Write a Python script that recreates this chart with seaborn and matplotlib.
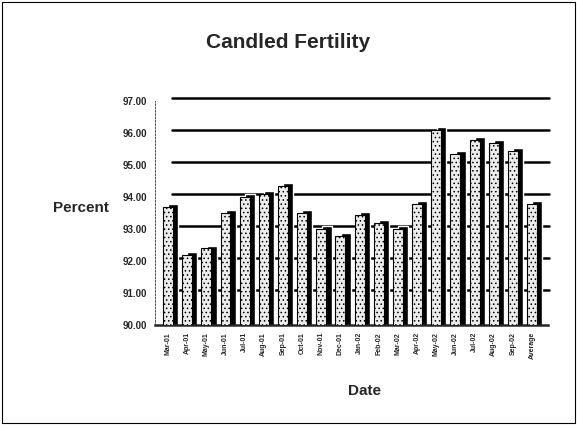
import numpy as np
import pandas as pd
import matplotlib
matplotlib.use("Agg")
import matplotlib.pyplot as plt
import matplotlib.transforms as mtransforms
from matplotlib.patches import Rectangle
import seaborn as sns

months = ["Mar-01", "Apr-01", "May-01", "Jun-01", "Jul-01", "Aug-01", "Sep-01",
          "Oct-01", "Nov-01", "Dec-01", "Jan-02", "Feb-02", "Mar-02", "Apr-02",
          "May-02", "Jun-02", "Jul-02", "Aug-02", "Sep-02", "Average"]
fertility = [93.7, 92.2, 92.4, 93.5, 94.0, 94.1, 94.35, 93.5, 93.0, 92.8,
             93.45, 93.2, 93.0, 93.8, 96.1, 95.35, 95.8, 95.7, 95.45, 93.8]
y_ticks = [90, 91, 92, 93, 94, 95, 96, 97]

df = pd.DataFrame({"Date": months, "Percent": fertility})

sns.set_style("white")
plt.rcParams["font.family"] = ["Liberation Sans", "DejaVu Sans"]
plt.rcParams["hatch.color"] = "#777777"
plt.rcParams["hatch.linewidth"] = 0.6

fig = plt.figure(figsize=(5.77, 4.25), dpi=100)
ax = fig.add_axes([0.2686, 0.235, 0.681, 0.527])

# 3D offset (right / up) used for the back wall and the column depth
depth = mtransforms.ScaledTranslation(3.8 / 72, 2 / 72, fig.dpi_scale_trans)

# back wall grid lines
wall = ax.get_yaxis_transform() + depth
for v in y_ticks[1:]:
    ax.plot([0.03, 0.99], [v, v], color="black", lw=1.8, zorder=0,
            transform=wall, clip_on=False)

# dark depth of the columns, pushed back
sns.barplot(data=df, x="Date", y="Percent", color="black", width=0.52,
            saturation=1, ax=ax, zorder=2)
n = len(ax.patches)
for p in ax.patches[:n]:
    p.set_transform(ax.transData + depth)

# light speckled front face
sns.barplot(data=df, x="Date", y="Percent", color="#ececec", width=0.52,
            saturation=1, ax=ax, edgecolor="black", linewidth=0.8, zorder=3)
for p in ax.patches[n:]:
    p.set_hatch("....")

ax.set_ylim(90, 97)
ax.set_xlim(-0.68, len(months) - 0.17)
ax.set_yticks(y_ticks)
ax.set_yticklabels([f"{v:.2f}" for v in y_ticks], fontsize=7, fontweight="bold")
ax.tick_params(axis="y", length=4, width=0.8, pad=2)
ax.tick_params(axis="x", length=0, pad=5)
plt.setp(ax.get_xticklabels(), rotation=90, fontsize=5, fontweight="bold")

for s in ["top", "right"]:
    ax.spines[s].set_visible(False)
ax.spines["left"].set_linestyle((0, (2, 2)))
ax.spines["left"].set_linewidth(0.6)
ax.spines["bottom"].set_linewidth(1.8)

ax.set_ylabel("Percent", rotation=0, fontsize=11, fontweight="bold", labelpad=0)
ax.yaxis.set_label_coords(-0.188, 0.49)
ax.set_xlabel("Date", fontsize=11, fontweight="bold", labelpad=16)
ax.xaxis.set_label_coords(0.534, -0.265)

fig.text(0.5, 0.9, "Candled Fertility", ha="center", va="center",
         fontsize=15, fontweight="bold")

fig.patches.append(Rectangle((0.004, 0.004), 0.992, 0.992, transform=fig.transFigure,
                             fill=False, edgecolor="black", linewidth=0.8))

fig.savefig("out.png", dpi=100)
